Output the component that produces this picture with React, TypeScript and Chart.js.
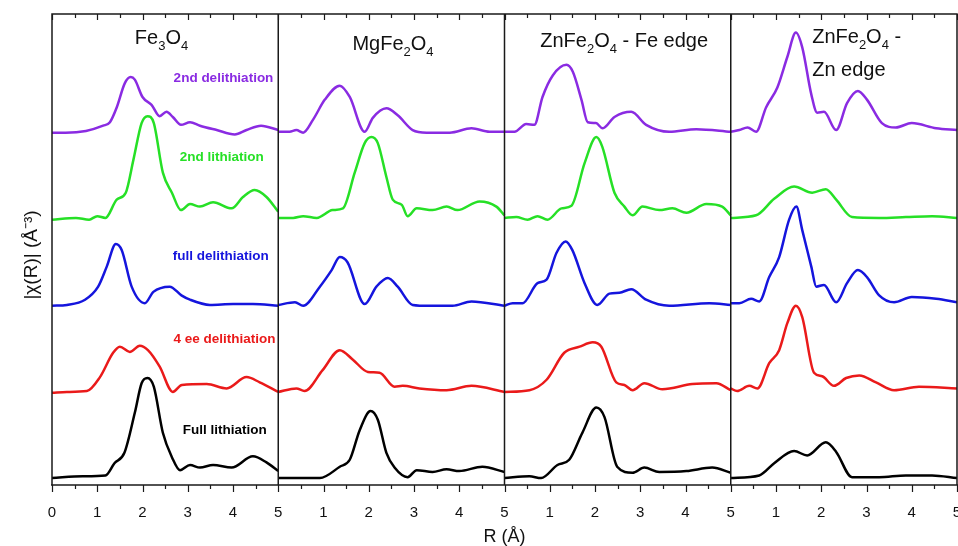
import React, { useEffect, useRef } from 'react';
import { Chart, registerables } from 'chart.js';

Chart.register(...registerables);

// ---- Data (R in Å, |χ(R)| in arbitrary units, each curve without its vertical offset) ----
const PANEL_TITLES = [
  [['Fe', false], ['3', true], ['O', false], ['4', true]],
  [['MgFe', false], ['2', true], ['O', false], ['4', true]],
  [['ZnFe', false], ['2', true], ['O', false], ['4', true], [' - Fe edge', false]],
  [['ZnFe', false], ['2', true], ['O', false], ['4', true], [' -', false]],
];
const PANEL_TITLE_LINE2 = ['', '', '', 'Zn edge'];

const SERIES_NAMES = ['2nd delithiation', '2nd lithiation', 'full delithiation', '4 ee delithiation', 'Full lithiation'];
const SERIES_COLORS = ['#8a2be2', '#26e026', '#1515dd', '#ea1a1a', '#000000'];
const SERIES_OFFSETS = [4, 3, 2, 1, 0];

const X_TICK_LABELS = ['0', '1', '2', '3', '4', '5'];

// Fe3O4
const fe3o4_delith2: [number, number][] = [[0,0.05],[0.3,0.05],[0.75,0.07],[1.13,0.13],[1.28,0.17],[1.43,0.34],[1.61,0.62],[1.74,0.69],[1.83,0.66],[2.0,0.46],[2.2,0.37],[2.38,0.24],[2.53,0.29],[2.67,0.23],[2.85,0.14],[3.05,0.17],[3.27,0.13],[3.64,0.08],[4.04,0.03],[4.3,0.08],[4.62,0.13],[5.0,0.08]];
const fe3o4_lith2: [number, number][] = [[0,0.05],[0.53,0.07],[0.82,0.05],[1.0,0.09],[1.18,0.07],[1.43,0.28],[1.63,0.36],[1.8,0.74],[1.98,1.16],[2.11,1.24],[2.25,1.16],[2.45,0.59],[2.65,0.36],[2.85,0.16],[3.05,0.23],[3.27,0.2],[3.56,0.25],[3.97,0.18],[4.22,0.31],[4.48,0.39],[4.74,0.31],[5.0,0.14]];
const fe3o4_fullDelith: [number, number][] = [[0,0.06],[0.33,0.07],[0.73,0.13],[1.02,0.28],[1.21,0.51],[1.41,0.77],[1.54,0.7],[1.76,0.28],[2.05,0.09],[2.24,0.22],[2.6,0.28],[2.86,0.18],[3.05,0.13],[3.49,0.07],[4.0,0.08],[4.44,0.08],[5.0,0.06]];
const fe3o4_4eeDelith: [number, number][] = [[0,0.06],[0.33,0.07],[0.77,0.08],[1.06,0.24],[1.35,0.52],[1.5,0.59],[1.72,0.53],[1.94,0.6],[2.12,0.55],[2.38,0.36],[2.67,0.07],[2.87,0.15],[3.42,0.16],[3.86,0.11],[4.3,0.24],[4.59,0.18],[5.0,0.07]];
const fe3o4_fullLith: [number, number][] = [[0,0.08],[0.68,0.1],[1.18,0.11],[1.38,0.25],[1.6,0.37],[1.83,0.83],[1.98,1.17],[2.11,1.23],[2.25,1.13],[2.45,0.6],[2.65,0.32],[2.83,0.17],[3.05,0.23],[3.27,0.2],[3.56,0.23],[3.97,0.2],[4.44,0.33],[4.74,0.26],[5.0,0.16]];

// MgFe2O4
const mgfe2o4_delith2: [number, number][] = [[0,0.06],[0.25,0.06],[0.4,0.08],[0.55,0.05],[0.77,0.2],[1.03,0.43],[1.36,0.59],[1.58,0.46],[1.91,0.06],[2.09,0.22],[2.39,0.33],[2.64,0.25],[2.97,0.08],[3.28,0.05],[3.79,0.05],[4.27,0.1],[4.67,0.06],[5.0,0.06]];
const mgfe2o4_lith2: [number, number][] = [[0,0.07],[0.33,0.07],[0.55,0.09],[0.85,0.07],[1.2,0.16],[1.43,0.18],[1.69,0.59],[1.91,0.93],[2.06,1.0],[2.2,0.93],[2.39,0.54],[2.53,0.28],[2.73,0.22],[2.86,0.09],[3.06,0.18],[3.41,0.16],[3.72,0.2],[3.96,0.16],[4.45,0.26],[4.82,0.2],[5.0,0.1]];
const mgfe2o4_fullDelith: [number, number][] = [[0,0.07],[0.37,0.1],[0.55,0.06],[0.92,0.28],[1.18,0.47],[1.36,0.62],[1.53,0.56],[1.91,0.08],[2.17,0.28],[2.42,0.38],[2.64,0.28],[2.97,0.07],[3.34,0.06],[3.85,0.06],[4.27,0.11],[5.0,0.06]];
const mgfe2o4_4eeDelith: [number, number][] = [[0,0.07],[0.4,0.11],[0.58,0.08],[0.98,0.32],[1.36,0.55],[1.65,0.44],[1.98,0.3],[2.24,0.29],[2.57,0.13],[2.75,0.14],[3.12,0.11],[3.72,0.09],[4.27,0.14],[5.0,0.07]];
const mgfe2o4_fullLith: [number, number][] = [[0,0.08],[0.92,0.08],[1.36,0.21],[1.58,0.29],[1.8,0.63],[2.04,0.85],[2.2,0.75],[2.39,0.37],[2.57,0.2],[2.86,0.09],[3.06,0.17],[3.41,0.15],[3.72,0.18],[4.0,0.16],[4.51,0.21],[5.0,0.15]];

// ZnFe2O4 - Fe edge
const znfeFe_delith2: [number, number][] = [[0,0.06],[0.22,0.06],[0.48,0.15],[0.66,0.14],[0.84,0.46],[1.07,0.71],[1.37,0.83],[1.51,0.75],[1.7,0.43],[1.84,0.17],[2.02,0.16],[2.17,0.1],[2.43,0.23],[2.8,0.29],[3.13,0.14],[3.64,0.06],[4.24,0.09],[5.0,0.06]];
const znfeFe_lith2: [number, number][] = [[0,0.07],[0.26,0.08],[0.51,0.05],[0.73,0.09],[0.95,0.05],[1.26,0.18],[1.48,0.21],[1.77,0.7],[2.03,1.0],[2.16,0.89],[2.43,0.36],[2.65,0.2],[2.83,0.1],[3.05,0.2],[3.42,0.16],[3.71,0.18],[4.02,0.13],[4.46,0.23],[4.81,0.2],[5.0,0.1]];
const znfeFe_fullDelith: [number, number][] = [[0,0.06],[0.18,0.09],[0.4,0.09],[0.73,0.32],[0.93,0.36],[1.15,0.67],[1.35,0.8],[1.5,0.7],[1.77,0.32],[2.05,0.07],[2.32,0.2],[2.54,0.21],[2.8,0.25],[3.13,0.13],[3.64,0.06],[4.53,0.09],[5.0,0.07]];
const znfeFe_4eeDelith: [number, number][] = [[0,0.07],[0.55,0.09],[0.93,0.21],[1.32,0.52],[1.66,0.59],[1.95,0.64],[2.14,0.59],[2.47,0.18],[2.65,0.15],[2.83,0.09],[3.09,0.17],[3.49,0.1],[4.15,0.16],[4.68,0.17],[5.0,0.09]];
const znfeFe_fullLith: [number, number][] = [[0,0.08],[0.55,0.1],[0.81,0.08],[1.17,0.23],[1.43,0.29],[1.72,0.6],[2.03,0.89],[2.21,0.78],[2.49,0.21],[2.83,0.14],[3.09,0.2],[3.42,0.15],[4.02,0.16],[4.59,0.2],[5.0,0.14]];

// ZnFe2O4 - Zn edge
const znfeZn_delith2: [number, number][] = [[0,0.06],[0.19,0.08],[0.37,0.11],[0.56,0.06],[0.78,0.34],[1.03,0.57],[1.25,0.92],[1.44,1.2],[1.58,1.03],[1.78,0.49],[1.91,0.28],[2.06,0.29],[2.33,0.08],[2.57,0.39],[2.81,0.53],[3.01,0.43],[3.34,0.16],[3.65,0.11],[4.0,0.16],[4.54,0.1],[5.0,0.08]];
const znfeZn_lith2: [number, number][] = [[0,0.07],[0.56,0.1],[0.96,0.29],[1.4,0.43],[1.8,0.36],[2.1,0.4],[2.33,0.28],[2.68,0.08],[3.28,0.07],[3.87,0.08],[4.45,0.09],[5.0,0.07]];
const znfeZn_fullDelith: [number, number][] = [[0,0.09],[0.19,0.09],[0.45,0.14],[0.63,0.11],[0.85,0.39],[1.07,0.62],[1.29,1.05],[1.45,1.2],[1.58,0.93],[1.78,0.51],[1.89,0.28],[2.06,0.3],[2.33,0.1],[2.57,0.32],[2.81,0.47],[3.01,0.39],[3.28,0.18],[3.61,0.1],[4.0,0.16],[4.54,0.14],[5.0,0.1]];
const znfeZn_4eeDelith: [number, number][] = [[0,0.11],[0.14,0.08],[0.41,0.14],[0.59,0.11],[0.85,0.4],[1.07,0.55],[1.25,0.86],[1.44,1.06],[1.58,0.93],[1.84,0.29],[2.02,0.25],[2.28,0.14],[2.55,0.23],[2.84,0.26],[3.21,0.18],[3.61,0.09],[4.16,0.13],[5.0,0.11]];
const znfeZn_fullLith: [number, number][] = [[0,0.08],[0.63,0.11],[0.96,0.25],[1.4,0.39],[1.69,0.34],[2.1,0.49],[2.33,0.38],[2.68,0.09],[3.28,0.09],[3.87,0.11],[4.45,0.11],[5.0,0.08]];

const PANEL_CURVES = [
  [fe3o4_delith2, fe3o4_lith2, fe3o4_fullDelith, fe3o4_4eeDelith, fe3o4_fullLith],
  [mgfe2o4_delith2, mgfe2o4_lith2, mgfe2o4_fullDelith, mgfe2o4_4eeDelith, mgfe2o4_fullLith],
  [znfeFe_delith2, znfeFe_lith2, znfeFe_fullDelith, znfeFe_4eeDelith, znfeFe_fullLith],
  [znfeZn_delith2, znfeZn_lith2, znfeZn_fullDelith, znfeZn_4eeDelith, znfeZn_fullLith],
];

const PANEL_WIDTH = 5; // Å per panel
const Y_MAX = 5.414;

const FONT = '"Liberation Sans", Arial, Helvetica, sans-serif';

const overlayPlugin = {
  id: 'overlay',
  afterDatasetsDraw(chart: any) {
    const { ctx, chartArea, scales } = chart;
    const xs = scales.x;
    const ys = scales.y;
    const { left, right, top, bottom } = chartArea;
    ctx.save();
    ctx.strokeStyle = '#1a1a1a';
    ctx.lineWidth = 1.5;
    // frame
    ctx.beginPath();
    ctx.moveTo(left, bottom);
    ctx.lineTo(left, top);
    ctx.lineTo(right, top);
    ctx.lineTo(right, bottom);
    ctx.moveTo(left - 1, bottom);
    ctx.lineTo(right + 1, bottom);
    // panel dividers
    for (let p = 1; p < PANEL_TITLES.length; p++) {
      const x = xs.getPixelForValue(p * PANEL_WIDTH);
      ctx.moveTo(x, top);
      ctx.lineTo(x, bottom);
    }
    ctx.stroke();
    // tick marks
    ctx.lineWidth = 1.2;
    ctx.beginPath();
    const total = PANEL_TITLES.length * PANEL_WIDTH;
    for (let v = 0; v <= total + 1e-9; v += 0.5) {
      const x = Math.round(xs.getPixelForValue(v)) + 0.5;
      const major = Math.abs(v - Math.round(v)) < 1e-9;
      ctx.moveTo(x, bottom);
      ctx.lineTo(x, bottom + (major ? 7 : 4));
      ctx.moveTo(x, top);
      ctx.lineTo(x, top + (major ? 6 : 4));
    }
    ctx.stroke();

    // panel titles
    ctx.fillStyle = '#111';
    ctx.textBaseline = 'alphabetic';
    ctx.textAlign = 'left';
    const titleLeftR = [1.83, 1.64, 0.79, 1.8];
    const titleBase = [30, 36, 33, 29];
    PANEL_TITLES.forEach((segs, p) => {
      let x = xs.getPixelForValue(p * PANEL_WIDTH + titleLeftR[p]);
      const y = top + titleBase[p];
      segs.forEach(([t, sub]) => {
        ctx.font = sub ? `13px ${FONT}` : `20px ${FONT}`;
        ctx.fillText(t as string, x, sub ? y + 6 : y);
        x += ctx.measureText(t as string).width;
      });
      if (PANEL_TITLE_LINE2[p]) {
        ctx.font = `20px ${FONT}`;
        ctx.fillText(PANEL_TITLE_LINE2[p], xs.getPixelForValue(p * PANEL_WIDTH + titleLeftR[p]), y + 33);
      }
    });

    // series labels (first panel)
    const labelR = [3.79, 3.75, 3.73, 3.81, 3.82];
    const labelY = [4.68, 3.77, 2.63, 1.67, 0.63];
    ctx.font = `bold 13.5px ${FONT}`;
    ctx.textAlign = 'center';
    ctx.textBaseline = 'middle';
    SERIES_NAMES.forEach((name, i) => {
      ctx.fillStyle = SERIES_COLORS[i];
      ctx.fillText(name, xs.getPixelForValue(labelR[i]), ys.getPixelForValue(labelY[i]));
    });

    // axis titles
    ctx.fillStyle = '#111';
    ctx.font = `18px ${FONT}`;
    ctx.textAlign = 'center';
    ctx.textBaseline = 'middle';
    ctx.fillText('R (Å)', (left + right) / 2, bottom + 52);
    ctx.save();
    ctx.translate(32, 255);
    ctx.rotate(-Math.PI / 2);
    ctx.font = `19px ${FONT}`;
    ctx.fillText('|χ(R)| (Å⁻³)', 0, 0);
    ctx.restore();
    ctx.restore();
  },
};

export default function App() {
  const canvasRef = useRef<HTMLCanvasElement | null>(null);
  useEffect(() => {
    document.body.style.margin = '0';
    const canvas = canvasRef.current;
    if (!canvas) return;
    const datasets: any[] = [];
    PANEL_CURVES.forEach((curves, p) => {
      curves.forEach((curve, s) => {
        datasets.push({
          label: `${p}-${SERIES_NAMES[s]}`,
          data: curve.map(([r, v]) => ({ x: p * PANEL_WIDTH + r, y: v + SERIES_OFFSETS[s] })),
          borderColor: SERIES_COLORS[s],
          borderWidth: 2.5,
          pointRadius: 0,
          fill: false,
          cubicInterpolationMode: 'monotone',
        });
      });
    });
    const chart = new Chart(canvas, {
      type: 'line',
      data: { datasets },
      options: {
        animation: false,
        responsive: false,
        maintainAspectRatio: false,
        layout: { padding: { left: 52, top: 14, right: 1, bottom: 0 } },
        plugins: { legend: { display: false }, tooltip: { enabled: false }, title: { display: false } },
        scales: {
          x: {
            type: 'linear',
            min: 0,
            max: PANEL_TITLES.length * PANEL_WIDTH,
            grid: { display: false },
            border: { display: false },
            afterFit: (scale: any) => {
              scale.height = 61;
              scale.paddingLeft = 0;
              scale.paddingRight = 0;
            },
            ticks: {
              stepSize: 0.5,
              autoSkip: false,
              maxRotation: 0,
              padding: 11,
              color: '#111',
              font: { family: FONT, size: 15 },
              callback: (value: any) => {
                const v = Number(value);
                if (Math.abs(v - Math.round(v)) > 1e-9) return '';
                const iv = Math.round(v);
                if (iv === 0) return X_TICK_LABELS[0];
                const m = iv % PANEL_WIDTH;
                return X_TICK_LABELS[m === 0 ? PANEL_WIDTH : m];
              },
            },
          },
          y: {
            type: 'linear',
            display: false,
            min: 0,
            max: Y_MAX,
          },
        },
      },
      plugins: [overlayPlugin],
    });
    return () => chart.destroy();
  }, []);
  return (
    <div style={{ width: 958, height: 546, background: '#fff' }}>
      <canvas ref={canvasRef} width={958} height={546} />
    </div>
  );
}
